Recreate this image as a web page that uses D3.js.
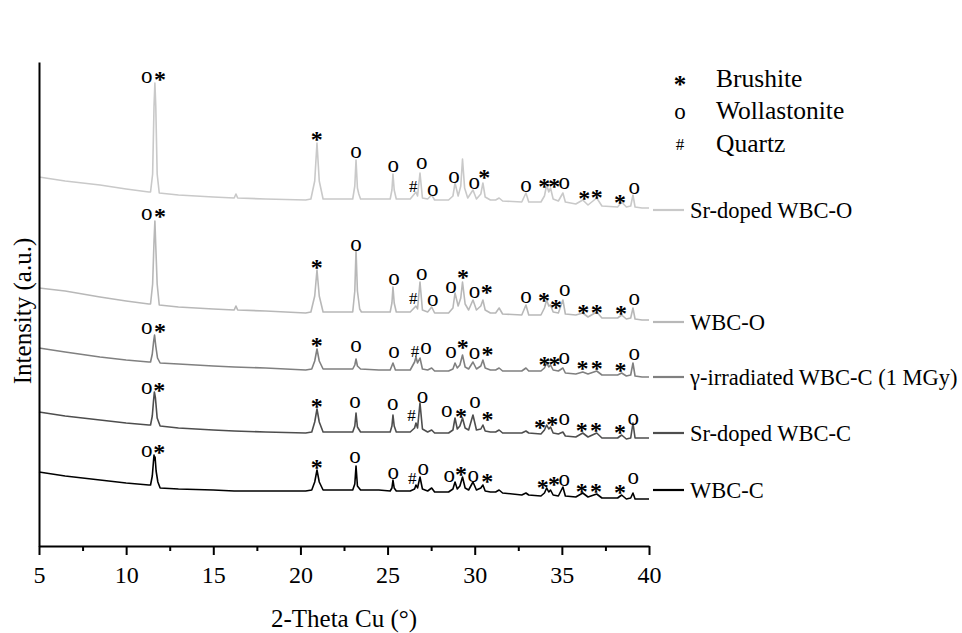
<!DOCTYPE html>
<html>
<head>
<meta charset="utf-8">
<script src="https://cdn.jsdelivr.net/npm/d3@7/dist/d3.min.js"></script>
<style>
  html, body { margin: 0; padding: 0; background: #ffffff; }
  svg text { font-family: "Liberation Serif", "Times New Roman", serif; fill: #000; }
</style>
</head>
<body>
<svg id="chart" width="962" height="633"></svg>
<script>
// ---------------- DATA ----------------
const xTicks = [5, 10, 15, 20, 25, 30, 35, 40];
const xMinorTicks = [7.5, 12.5, 17.5, 22.5, 27.5, 32.5, 37.5];

const seriesNames = ["Sr-doped WBC-O", "WBC-O", "\u03b3-irradiated WBC-C (1 MGy)", "Sr-doped WBC-C", "WBC-C"];
const labelLevels = [336, 224, 169, 113, 56];   // a.u. level of each trace label

const phaseNames = ["Brushite", "Wollastonite", "Quartz"];
const phaseSymbols = ["*", "o", "#"];

// [2-theta, intensity (a.u.)]
const srDopedWBCO = [
  [5,369],[6.5,365],[8.5,361],[10,357],[11.3,354],[11.4,354],[11.52,372],[11.6,440],[11.65,463],[11.7,440],[11.78,372],[11.9,353],
  [13,351],[15,349],[16.2,348],[16.3,352],[16.4,348],[18,347],[20.3,346],
  [20.6,347],[20.82,365],[20.95,403],[21.08,365],[21.3,347],[22.5,347],
  [23.0,347],[23.12,360],[23.19,386],[23.27,358],[23.35,352],[23.45,347],[24.5,347],
  [25.15,347],[25.25,356],[25.31,372],[25.38,356],[25.5,347],[26.3,347],
  [26.63,354],[26.72,350],[26.86,373],[27.0,348],[27.3,347],[27.53,351],[27.7,346],
  [28.5,346],[28.75,350],[28.87,363],[29.05,350],[29.2,360],[29.3,387],[29.42,358],[29.6,348],[29.9,356],[30.1,347],
  [30.35,352],[30.47,363],[30.6,349],[30.9,346],[31.2,346],[31.4,348],[31.6,345],
  [32.7,344],[32.94,353],[33.1,344],[33.8,344],[34.0,350],[34.13,361],[34.25,354],[34.35,358],[34.5,347],[34.8,345],
  [35.06,353],[35.2,344],[35.8,342],[36.2,346],[36.5,341],[37.0,348],[37.3,340],
  [38.2,339],[38.43,344],[38.7,339],[38.95,340],[39.08,351],[39.2,339],[39.6,338],[40,338]
];
const wbcO = [
  [5,258],[6.5,255],[8.5,249],[10,245],[11.3,242],[11.4,242],[11.52,262],[11.6,305],[11.65,325],[11.7,300],[11.78,262],[11.9,241],
  [13,239],[15,237],[16.2,236],[16.3,240],[16.4,236],[18,235],[20.3,233],
  [20.6,234],[20.82,250],[20.95,276],[21.08,250],[21.3,234],[22.5,234],
  [23.0,234],[23.12,255],[23.19,296],[23.27,255],[23.4,237],[23.5,234],[24.5,234],
  [25.15,234],[25.25,243],[25.31,259],[25.38,243],[25.5,234],[26.3,234],
  [26.63,240],[26.72,237],[26.86,264],[27.0,236],[27.3,234],[27.53,239],[27.7,233],
  [28.5,233],[28.75,238],[28.87,253],[29.05,240],[29.2,248],[29.3,264],[29.45,242],[29.65,236],[29.9,246],[30.1,236],
  [30.35,240],[30.47,246],[30.6,236],[30.9,233],[31.2,233],[31.4,238],[31.6,232],
  [32.7,231],[32.94,241],[33.1,231],[33.8,231],[34.0,238],[34.13,246],[34.25,240],[34.35,241],[34.5,234],[34.8,233],
  [35.06,246],[35.2,232],[35.8,231],[36.2,233],[36.5,229],[37.0,234],[37.3,228],
  [38.2,228],[38.43,231],[38.7,227],[38.95,228],[39.08,238],[39.2,227],[39.6,226],[40,226]
];
const gammaWBCC = [
  [5,198],[6.5,194],[8.5,189],[10,186],[11.3,184],[11.4,184],[11.5,192],[11.58,205],[11.63,211],[11.7,200],[11.8,188],[11.95,183],
  [13,182],[15,180],[16.2,179],[18,178],[20.3,176],
  [20.65,177],[20.82,185],[20.95,197],[21.08,185],[21.3,177],[22.5,177],
  [23.0,177],[23.12,181],[23.19,187],[23.27,180],[23.45,177],[24.5,176],
  [25.15,176],[25.31,183],[25.45,176],[26.3,176],
  [26.55,184],[26.63,189],[26.72,183],[26.86,188],[27.0,177],[27.3,176],[27.53,178],[27.7,175],
  [28.5,175],[28.75,177],[28.87,183],[29.0,178],[29.15,181],[29.3,191],[29.45,179],[29.65,177],[29.9,184],[30.1,177],
  [30.35,180],[30.47,186],[30.6,178],[30.9,176],[31.2,176],[31.4,178],[31.6,175],
  [32.7,175],[32.94,178],[33.1,175],[33.8,175],[34.0,178],[34.13,183],[34.25,179],[34.35,181],[34.5,176],[34.8,175],
  [35.06,178],[35.2,173],[35.8,172],[36.2,174],[36.5,172],[37.0,175],[37.3,171],
  [38.2,171],[38.43,173],[38.7,170],[38.95,171],[39.08,183],[39.2,170],[39.6,169],[40,169]
];
const srDopedWBCC = [
  [5,134],[6.5,130],[8.5,126],[10,123],[11.3,121],[11.4,121],[11.5,130],[11.57,145],[11.62,154],[11.68,148],[11.78,128],[11.95,120],
  [13,118],[15,116],[16.2,115],[18,114],[20.3,113],
  [20.65,114],[20.82,124],[20.95,137],[21.08,124],[21.3,114],[22.5,114],
  [23.0,114],[23.12,120],[23.19,133],[23.27,119],[23.45,114],[24.5,114],
  [25.15,114],[25.25,120],[25.31,131],[25.38,120],[25.5,114],[26.3,114],
  [26.55,118],[26.63,123],[26.72,118],[26.86,143],[27.0,117],[27.3,114],[27.53,116],[27.7,113],
  [28.5,113],[28.75,116],[28.87,128],[29.0,117],[29.15,120],[29.3,128],[29.45,118],[29.65,116],[29.9,131],[30.1,116],
  [30.35,117],[30.47,121],[30.6,115],[30.9,114],[31.2,114],[31.4,116],[31.6,113],
  [32.7,113],[32.94,115],[33.1,113],[33.8,112],[34.0,116],[34.13,121],[34.25,117],[34.35,119],[34.5,113],[34.8,112],
  [35.06,114],[35.2,110],[35.8,109],[36.2,113],[36.5,109],[37.0,113],[37.3,108],
  [38.2,108],[38.43,111],[38.7,107],[38.95,108],[39.08,123],[39.2,108],[39.6,108],[40,108]
];
const wbcC = [
  [5,74],[6.5,70],[8.5,66],[10,63],[11.3,61],[11.4,61],[11.5,70],[11.57,85],[11.6,91],[11.63,86],[11.66,89],[11.72,75],[11.82,64],[11.95,58],
  [13,57],[15,56],[16.2,55],[18,55],[20.3,55],
  [20.65,56],[20.82,64],[20.95,76],[21.08,64],[21.3,56],[22.5,56],
  [23.0,56],[23.12,62],[23.19,80],[23.27,60],[23.45,56],[24.5,56],
  [25.15,55],[25.25,58],[25.31,66],[25.38,58],[25.5,55],[26.3,55],
  [26.55,57],[26.63,61],[26.72,58],[26.86,69],[27.0,57],[27.3,55],[27.53,58],[27.7,54],
  [28.5,54],[28.75,57],[28.87,64],[29.0,57],[29.15,60],[29.3,69],[29.45,58],[29.65,56],[29.9,64],[30.1,56],
  [30.35,58],[30.47,61],[30.6,55],[30.9,54],[31.2,54],[31.4,56],[31.6,53],
  [32.7,51],[32.94,53],[33.1,51],[33.8,50],[34.0,53],[34.13,58],[34.25,54],[34.35,56],[34.5,51],[34.8,50],
  [35.06,59],[35.2,50],[35.8,49],[36.2,53],[36.5,49],[37.0,52],[37.3,48],
  [38.2,48],[38.43,51],[38.7,47],[38.95,48],[39.08,53],[39.2,47],[39.6,47],[40,47]
];

// phase marks: [2-theta, intensity (a.u.), symbol]
const marksSrDopedWBCO = [
  [11.18,468,"o"],[11.94,471,"*"],[20.93,411,"*"],[23.19,393,"o"],[25.33,379,"o"],[26.47,360,"#"],[26.96,382,"o"],
  [27.59,355,"o"],[28.81,368,"o"],[29.97,362,"o"],[30.55,373,"*"],[32.94,359,"o"],[34.22,364,"**"],
  [35.14,362,"o"],[36.29,352,"*"],[37.0,353,"*"],[38.33,348,"*"],[39.15,357,"o"]
];
const marksWBCO = [
  [11.18,331,"o"],[11.94,334,"*"],[20.93,283,"*"],[23.19,300,"o"],[25.37,266,"o"],[26.47,248,"#"],[26.96,271,"o"],
  [27.59,245,"o"],[28.64,258,"o"],[29.33,273,"*"],[29.99,253,"o"],[30.69,258,"*"],[32.94,248,"o"],[33.97,250,"*"],
  [34.67,243,"*"],[35.16,255,"o"],[36.23,238,"*"],[37.0,238,"*"],[38.39,237,"*"],[39.15,246,"o"]
];
const marksGammaWBCC = [
  [11.18,217,"o"],[11.94,219,"*"],[20.93,205,"*"],[23.19,199,"o"],[25.37,193,"o"],[26.57,195,"#"],[27.2,197,"o"],
  [28.64,193,"o"],[29.31,203,"*"],[29.99,192,"o"],[30.74,196,"*"],[34.23,186,"**"],[35.14,187,"o"],
  [36.19,182,"*"],[37.0,182,"*"],[38.37,180,"*"],[39.15,191,"o"]
];
const marksSrDopedWBCC = [
  [11.18,157,"o"],[11.9,160,"*"],[20.93,144,"*"],[23.13,143,"o"],[25.29,141,"o"],[26.38,131,"#"],[27.01,148,"o"],
  [28.39,134,"o"],[29.21,134,"*"],[30.01,143,"o"],[30.74,131,"*"],[33.74,123,"*"],[34.45,126,"*"],[35.14,126,"o"],
  [36.14,120,"*"],[36.96,120,"*"],[38.33,118,"*"],[39.1,126,"o"]
];
const marksWBCC = [
  [11.18,94,"o"],[11.9,98,"*"],[20.93,83,"*"],[23.13,88,"o"],[25.33,72,"o"],[26.42,68,"#"],[27.05,76,"o"],
  [28.54,69,"o"],[29.21,76,"*"],[29.92,69,"o"],[30.72,69,"*"],[33.9,63,"*"],[34.55,66,"*"],[35.14,65,"o"],
  [36.14,59,"*"],[36.96,59,"*"],[38.33,58,"*"],[39.1,67,"o"]
];

// ---------------- STYLE ----------------
const seriesColors = ["#c9c9c9", "#b8b8b8", "#808080", "#4e4e4e", "#000000"];
const allSeries = [srDopedWBCO, wbcO, gammaWBCC, srDopedWBCC, wbcC];
const allMarks = [marksSrDopedWBCO, marksWBCO, marksGammaWBCC, marksSrDopedWBCC, marksWBCC];

// ---------------- CHART ----------------
const svg = d3.select("#chart");
const plotLeft = 39, plotRight = 649, plotBottom = 546, plotTop = 62;

const x = d3.scaleLinear().domain([5, 40]).range([plotLeft, plotRight]);
const y = d3.scaleLinear().domain([0, 484]).range([plotBottom, plotTop]);

const line = d3.line().x(d => x(d[0])).y(d => y(d[1]));

// traces
svg.append("g").selectAll("path")
  .data(allSeries)
  .join("path")
  .attr("d", line)
  .attr("fill", "none")
  .attr("stroke", (d, i) => seriesColors[i])
  .attr("stroke-width", 1.6)
  .attr("stroke-linejoin", "round");

// phase marks
const symStyle = {
  "*": { size: 24, weight: "bold", dy: 11.5 },
  "o": { size: 23, weight: "normal", dy: 5 },
  "#": { size: 17, weight: "normal", dy: 6 }
};
allMarks.forEach(marks => {
  svg.append("g").selectAll("text")
    .data(marks)
    .join("text")
    .attr("x", d => x(d[0]))
    .attr("y", d => y(d[1]) + symStyle[d[2][0]].dy)
    .attr("text-anchor", "middle")
    .attr("letter-spacing", d => d[2].length > 1 ? "-2px" : null)
    .style("font-size", d => symStyle[d[2][0]].size + "px")
    .style("font-weight", d => symStyle[d[2][0]].weight)
    .text(d => d[2]);
});

// axes
const xAxis = svg.append("g").attr("transform", `translate(0,${plotBottom})`)
  .call(d3.axisBottom(x).tickValues(xTicks).tickSize(9).tickSizeOuter(0).tickPadding(11));
xAxis.select(".domain").attr("stroke", "#000").attr("stroke-width", 2);
xAxis.selectAll(".tick line").attr("stroke", "#000").attr("stroke-width", 2);
xAxis.selectAll(".tick text").attr("font-size", null).style("font-size", "24px")
  .style("font-family", '"Liberation Serif", serif');

const xMinor = svg.append("g").attr("transform", `translate(0,${plotBottom})`)
  .call(d3.axisBottom(x).tickValues(xMinorTicks).tickSize(5).tickFormat(""));
xMinor.select(".domain").remove();
xMinor.selectAll(".tick line").attr("stroke", "#000").attr("stroke-width", 2);

const yAxis = svg.append("g").attr("transform", `translate(${plotLeft},0)`)
  .call(d3.axisLeft(y).tickValues([]).tickSizeOuter(0));
yAxis.select(".domain").attr("stroke", "#000").attr("stroke-width", 2);

// axis titles
svg.append("text")
  .attr("x", (plotLeft + plotRight) / 2)
  .attr("y", 627)
  .attr("text-anchor", "middle")
  .style("font-size", "25px")
  .text("2-Theta Cu (\u00b0)");

svg.append("text")
  .attr("transform", `translate(31,${(plotTop + plotBottom) / 2 + 7}) rotate(-90)`)
  .attr("text-anchor", "middle")
  .style("font-size", "25px")
  .text("Intensity (a.u.)");

// trace labels (line + name)
const lab = svg.append("g").selectAll("g")
  .data(seriesNames)
  .join("g")
  .attr("transform", (d, i) => `translate(0,${y(labelLevels[i])})`);
lab.append("line")
  .attr("x1", 653).attr("x2", 684)
  .attr("stroke", (d, i) => seriesColors[i])
  .attr("stroke-width", 2.2);
lab.append("text")
  .attr("x", 690)
  .attr("dy", "0.34em")
  .style("font-size", "22.5px")
  .text(d => d);

// phase legend
const leg = svg.append("g").selectAll("g")
  .data(phaseNames)
  .join("g")
  .attr("transform", (d, i) => `translate(0,${78 + i * 32.5})`);
leg.append("text")
  .attr("x", 680)
  .attr("y", (d, i) => [15, 8, 7][i])
  .attr("text-anchor", "middle")
  .style("font-size", (d, i) => ["25px", "23px", "17px"][i])
  .style("font-weight", (d, i) => i === 0 ? "bold" : "normal")
  .text((d, i) => phaseSymbols[i]);
leg.append("text")
  .attr("x", 716)
  .attr("dy", "0.34em")
  .style("font-size", "25.5px")
  .text(d => d);
</script>
</body>
</html>
